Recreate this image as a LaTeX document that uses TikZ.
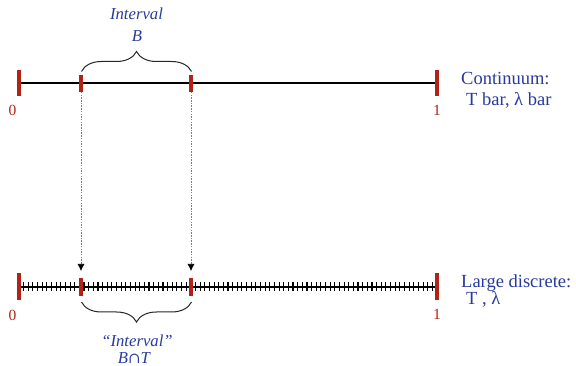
\documentclass[tikz,border=0pt]{standalone}
\usepackage{fontspec}
\setmainfont{Liberation Serif}
\newfontfamily\capfont{DejaVu Serif}
\usetikzlibrary{arrows.meta,decorations.pathreplacing}
\definecolor{tickred}{RGB}{178,34,22}
\definecolor{txtblue}{RGB}{40,58,158}
\tikzset{
  mainline/.style={line width=1.7pt,black},
  bigtick/.style={line width=3.6pt,tickred},
  smalltick/.style={line width=3.4pt,tickred},
  dtick/.style={line width=1.1pt,black},
  endlabel/.style={font=\fontsize{15.5}{18}\selectfont,text=tickred,inner sep=0pt,anchor=base},
  bluelabel/.style={font=\fontsize{18.5}{22}\selectfont,text=txtblue,inner sep=0pt,anchor=base west},
  ilabel/.style={font=\fontsize{16.7}{20}\selectfont\itshape,text=txtblue,inner sep=0pt,anchor=base},
  bracestyle/.style={decorate,decoration={brace,amplitude=20pt},line width=1pt,black!85},
  guide/.style={line width=0.6pt,gray,dash pattern=on 1.5pt off 1.2pt,-{Latex[length=7pt,width=7pt,black]}}
}
\begin{document}
\begin{tikzpicture}[x=1pt,y=-1pt]
\useasboundingbox (0,0) rectangle (576,366);
% top continuum line
\coordinate (t0) at (19,83);
\coordinate (t1) at (437,83);
\draw[mainline] (t0) -- (t1);
\draw[bigtick] (19,70) -- (19,96);
\draw[bigtick] (437,70) -- (437,96);
\draw[smalltick] (81,75) -- (81,92);
\draw[smalltick] (191,75) -- (191,92);
\coordinate (taL) at (81.5,71.5);
\coordinate (tbL) at (191.5,71.5);
\draw[bracestyle] (taL) -- (tbL);
\node[ilabel] (intB1) at (136.5,20) {Interval};
\node[ilabel] (intB2) at (137,42) {B};
\node[endlabel] (z0) at (12.5,115.5) {0};
\node[endlabel] (o1) at (437,115.5) {1};
\node[bluelabel] (c1) at (461,84.5) {Continuum:};
\node[bluelabel] (c2) at (466,105.5) {T bar, λ bar};
% bottom discrete line
\coordinate (b0) at (19,287);
\coordinate (b1) at (437,287);
\draw[mainline,line width=2pt] (b0) -- (b1);
\foreach \i in {1,...,89} {
  \draw[dtick] ({19+\i*4.6444},282.5) -- ({19+\i*4.6444},291.5);
}
\draw[bigtick] (19,273) -- (19,300);
\draw[bigtick] (437,273) -- (437,300);
\draw[smalltick] (81,278) -- (81,296);
\draw[smalltick] (191,278) -- (191,296);
\coordinate (ba) at (81,271);
\coordinate (bb) at (191,271);
\coordinate (taD) at (81,92);
\coordinate (tbD) at (191,92);
\draw[guide] (taD) -- (ba);
\draw[guide] (tbD) -- (bb);
\coordinate (baL) at (191.5,302);
\coordinate (bbL) at (81.5,302);
\draw[bracestyle] (baL) -- (bbL);
\node[ilabel] (intC1) at (137,346) {“Interval”};
\node[ilabel] (intC2) at (134,363) {B{\capfont\upshape\fontsize{15}{18}\selectfont ∩}T};
\node[endlabel] (z0b) at (12.5,320) {0};
\node[endlabel] (o1b) at (437,319.5) {1};
\node[bluelabel] (d1) at (461,287.5) {Large discrete:};
\node[bluelabel] (d2) at (466,305) {T , λ};
\end{tikzpicture}
\end{document}
